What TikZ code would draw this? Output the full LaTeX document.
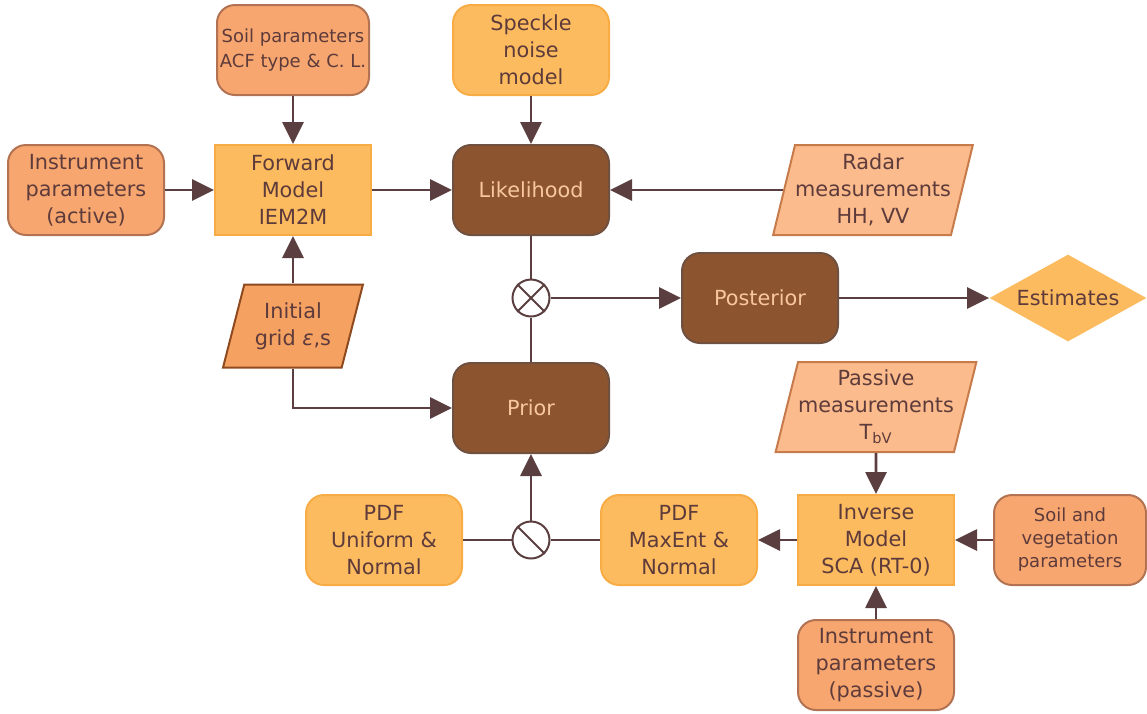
\documentclass[tikz,border=0pt]{standalone}
\usepackage{fontspec}
\setmainfont{DejaVu Sans}
\usetikzlibrary{arrows.meta}
\usetikzlibrary{shapes.geometric}

\definecolor{txtcol}{HTML}{5E3B3B}
\definecolor{linecol}{HTML}{5B3F40}
\definecolor{darkfill}{HTML}{8D5430}
\definecolor{darkdraw}{HTML}{70503F}
\definecolor{lighttxt}{HTML}{F7C7A0}
\definecolor{yelfill}{HTML}{FDBB5F}
\definecolor{yeldraw}{HTML}{F8AC45}
\definecolor{salfill}{HTML}{F7A66F}
\definecolor{saldraw}{HTML}{B37352}
\definecolor{datfill}{HTML}{FBBB8C}
\definecolor{datdraw}{HTML}{C77B4B}
\definecolor{gridfill}{HTML}{F5A162}
\definecolor{griddraw}{HTML}{8E4A1E}

\begin{document}
\begin{tikzpicture}[x=0.5pt,y=-0.5pt,
    every node/.style={font=\fontsize{10.4}{13.5}\selectfont, text=txtcol, align=center, inner sep=1pt},
    box/.style={minimum width=78pt, minimum height=45pt, line width=1pt},
    darkbox/.style={box, rounded corners=9pt, fill=darkfill, draw=darkdraw, text=lighttxt},
    yelbox/.style={box, rounded corners=9pt, fill=yelfill, draw=yeldraw},
    modelbox/.style={box, fill=yelfill, draw=yeldraw},
    parbox/.style={box, rounded corners=9pt, fill=salfill, draw=saldraw},
    databox/.style={trapezium, trapezium left angle=74, trapezium right angle=106,
      trapezium stretches=true, minimum width=99pt, minimum height=45pt, inner xsep=0pt,
      line width=1pt, fill=datfill, draw=datdraw},
    op/.style={circle, minimum size=18.5pt, inner sep=0pt, fill=white, draw=linecol, line width=1pt},
    conn/.style={draw=linecol, line width=1.4pt},
    arr/.style={conn, -{Triangle[length=11pt,width=10.5pt]}}]
      \useasboundingbox (0,0) rectangle (1147,713);

      \node[parbox, font=\fontsize{9}{12.5}\selectfont, minimum width=76pt] (soilpar) at (293,50) {Soil parameters\\ACF type \& C. L.};
      \node[yelbox] (speckle) at (531,50) {Speckle\\noise\\model};
      \node[parbox] (instact) at (86,190) {Instrument\\parameters\\(active)};
      \node[modelbox] (fwd) at (293,190) {Forward\\Model\\IEM2M};
      \node[darkbox] (like) at (531,190) {Likelihood};
      \node[databox] (radar) at (873,190) {Radar\\measurements\\HH, VV};
      \node[op] (mul) at (531,298) {};
      \node[darkbox] (post) at (760,298) {Posterior};
      \node[diamond, aspect=1.8, inner sep=0pt, minimum width=78.5pt, minimum height=43.5pt,
        fill=yelfill] (est) at (1068,298) {Estimates};
      \node[databox, trapezium left angle=72, trapezium right angle=108, fill=gridfill,
        draw=griddraw, minimum width=70pt, minimum height=41.5pt] (grid) at (293,326) {Initial\\grid {\itshape ε},s};
      \node[darkbox] (prior) at (531,408) {Prior};
      \node[databox] (passive) at (876,407) {Passive\\measurements\\T\textsubscript{bV}};
      \node[yelbox] (unif) at (384,540) {PDF\\Uniform \&\\Normal};
      \node[op] (sel) at (531,540) {};
      \node[yelbox] (maxent) at (679,540) {PDF\\MaxEnt \&\\Normal};
      \node[modelbox] (inv) at (876,540) {Inverse\\Model\\SCA (RT-0)};
      \node[parbox, font=\fontsize{9}{11.5}\selectfont, minimum width=76pt] (soilveg) at (1070,540) {Soil and\\vegetation\\parameters};
      \node[parbox] (instpas) at (876,665) {Instrument\\parameters\\(passive)};

      \draw[conn, line width=1pt] (mul.north west) -- (mul.south east) (mul.north east) -- (mul.south west);
      \draw[conn, line width=1pt] (sel.north west) -- (sel.south east);

      \foreach \a/\b in {soilpar/fwd, instact/fwd, fwd/like, speckle/like, radar/like, grid/fwd,
        mul/post, post/est, passive/inv, soilveg/inv, instpas/inv, inv/maxent, sel/prior} {
        \draw[arr] (\a) -- (\b);
      }
      \draw[conn] (like) -- (mul);
      \draw[conn] (prior) -- (mul);
      \draw[conn] (unif) -- (sel);
      \draw[conn] (maxent) -- (sel);
      \draw[arr] (grid.south) |- (prior.west);
    \end{tikzpicture}
\end{document}
